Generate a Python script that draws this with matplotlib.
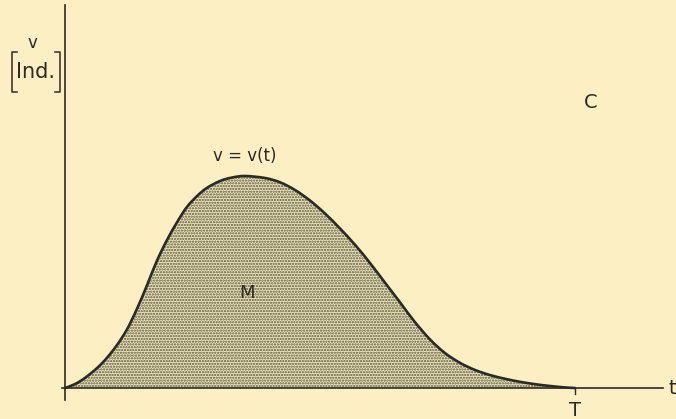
import numpy as np
import matplotlib.pyplot as plt
from matplotlib.path import Path
from matplotlib.patches import PathPatch

t_vals = [0.0, 0.20, 0.39, 0.63, 0.82, 1.02, 1.22, 1.41, 1.61, 1.80, 2.00, 2.20,
          2.39, 2.59, 2.78, 3.04, 3.27, 3.53, 3.92, 4.22, 4.51, 4.80, 5.10, 5.39,
          5.69, 5.98, 6.27, 6.57, 6.86, 7.16, 7.45, 7.75, 8.04, 8.33, 8.63, 8.92,
          9.22, 9.51, 9.80, 10.0]
v_vals = [0.0, 0.20, 0.50, 1.00, 1.50, 2.15, 2.95, 3.95, 5.15, 6.35, 7.40, 8.30,
          9.05, 9.60, 10.00, 10.35, 10.52, 10.60, 10.50, 10.28, 9.90, 9.38, 8.72, 7.98,
          7.15, 6.25, 5.28, 4.28, 3.30, 2.42, 1.75, 1.25, 0.90, 0.65, 0.46, 0.31,
          0.19, 0.10, 0.03, 0.0]

T = 10.0
bg = "#fcefc4"
ink = "#2b2a24"


def smooth_path(xs, ys):
    # draw a smooth (Catmull-Rom as Bezier) curve through the read points
    p = np.column_stack([xs, ys])
    p = np.vstack([p[0], p, p[-1]])
    verts = [p[1]]
    codes = [Path.MOVETO]
    for i in range(1, len(p) - 2):
        c1 = p[i] + (p[i + 1] - p[i - 1]) / 6
        c2 = p[i + 1] - (p[i + 2] - p[i]) / 6
        verts += [c1, c2, p[i + 1]]
        codes += [Path.CURVE4] * 3
    return verts, codes


fig = plt.figure(figsize=(6.76, 4.19), dpi=100, facecolor=bg)
ax = fig.add_axes([0, 0, 1, 1])
ax.set_facecolor(bg)
# x_px = 65 + 51*t, y_px = 388 - 20*v
ax.set_xlim(-65 / 51, 611 / 51)
ax.set_ylim(-31 / 20, 388 / 20)
ax.axis("off")

verts, codes = smooth_path(t_vals, v_vals)

plt.rcParams["hatch.color"] = "#5a583f"
plt.rcParams["hatch.linewidth"] = 1.1
fill = PathPatch(Path(verts + [verts[0]], codes + [Path.CLOSEPOLY]),
                 facecolor="#ede3b9", edgecolor="#5a583f", hatch="......", lw=0)
ax.add_patch(fill)
ax.add_patch(PathPatch(Path(verts, codes), facecolor="none", edgecolor=ink,
                       lw=1.9, capstyle="round"))

# axes
ax.plot([0, 0], [-0.6, 19.15], color=ink, lw=1.2)
ax.plot([-0.06, 11.72], [0, 0], color=ink, lw=1.2)
ax.plot([T, T], [0, -0.3], color=ink, lw=1.0)

ax.text(11.9, 0, "t", fontsize=14, color=ink, ha="center", va="center")
ax.text(T, -0.65, "T", fontsize=14, color=ink, ha="center", va="top")
ax.text(-0.63, 17.25, "v", fontsize=12, color=ink, ha="center", va="center")
ax.text(-0.58, 15.8, "Ind.", fontsize=15, color=ink, ha="center", va="center")

# square brackets around the unit
bx_l, bx_r, b_top, b_bot, serif = -1.04, -0.1, 16.8, 14.8, 0.1
ax.plot([bx_l + serif, bx_l, bx_l, bx_l + serif], [b_top, b_top, b_bot, b_bot],
        color=ink, lw=1.1)
ax.plot([bx_r - serif, bx_r, bx_r, bx_r - serif], [b_top, b_top, b_bot, b_bot],
        color=ink, lw=1.1)

ax.text(10.3, 14.3, "C", fontsize=14, color=ink, ha="center", va="center")
ax.text(3.52, 11.6, "v = v(t)", fontsize=12, color=ink, ha="center", va="center")
ax.text(3.57, 4.75, "M", fontsize=13, color=ink, ha="center", va="center")

fig.savefig("out.png", dpi=100, facecolor=bg)
